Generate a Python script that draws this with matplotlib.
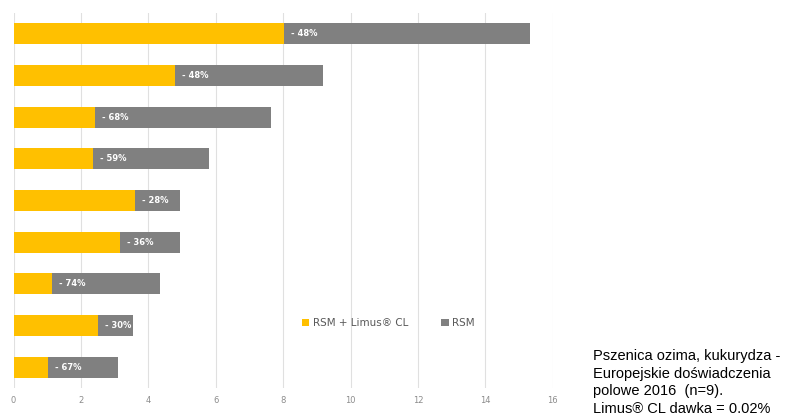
import matplotlib
matplotlib.use("Agg")
import matplotlib.pyplot as plt
from matplotlib.patches import Patch

# Data (top to bottom)
rsm = [15.33, 9.17, 7.65, 5.79, 4.94, 4.94, 4.36, 3.55, 3.10]
rsm_limus = [8.04, 4.80, 2.41, 2.37, 3.60, 3.15, 1.15, 2.51, 1.01]
labels = ["- 48%", "- 48%", "- 68%", "- 59%", "- 28%", "- 36%", "- 74%", "- 30%", "- 67%"]
xticks = [0, 2, 4, 6, 8, 10, 12, 14, 16]
series_names = ["RSM + Limus\u00ae CL", "RSM"]
note = "Pszenica ozima, kukurydza -\nEuropejskie doświadczenia\npolowe 2016  (n=9).\nLimus® CL dawka = 0.02%"

yellow = "#FFC000"
grey = "#808080"

fig = plt.figure(figsize=(8, 4.19), dpi=100)
ax = fig.add_axes([0.0169, 0.074, 0.674, 0.895])

pos = list(range(len(rsm)))
ax.barh(pos, rsm, height=0.5, color=grey, zorder=2)
ax.barh(pos, rsm_limus, height=0.5, color=yellow, zorder=3)
for p, v, lab in zip(pos, rsm_limus, labels):
    ax.annotate(lab, xy=(v, p), xytext=(5, 0), textcoords="offset points",
                ha="left", va="center", color="white", fontsize=6,
                fontweight="bold", zorder=4)

ax.set_xlim(0, 16)
ax.set_ylim(len(rsm) - 0.5, -0.5)
ax.set_xticks(xticks)
ax.set_xticklabels([str(t) for t in xticks])
ax.set_yticks([])
ax.tick_params(axis="x", length=0, labelsize=6, colors="#8c8c8c", pad=6)
ax.grid(axis="x", color="#e0e0e0", linewidth=0.8, zorder=0)
ax.set_axisbelow(True)
for s in ax.spines.values():
    s.set_visible(False)

handles = [Patch(facecolor=yellow, edgecolor="none"), Patch(facecolor=grey, edgecolor="none")]
leg = fig.legend(handles, series_names, loc="center left", bbox_to_anchor=(0.366, 0.228),
                 ncol=2, frameon=False, fontsize=7.5, handlelength=0.7, handleheight=0.7,
                 handletextpad=0.3, columnspacing=3.2, labelcolor="#595959")

fig.text(0.741, 0.167, note, fontsize=10.5, family="Liberation Sans", color="black",
         ha="left", va="top", linespacing=1.33)

fig.savefig("out.png", dpi=100)
